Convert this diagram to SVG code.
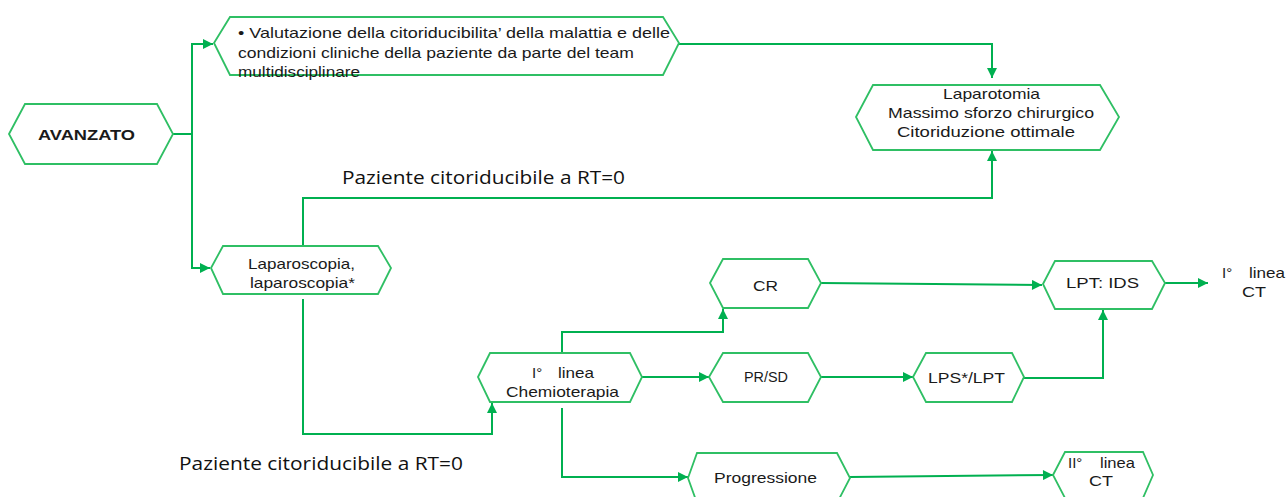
<svg xmlns="http://www.w3.org/2000/svg" width="1286" height="497" viewBox="0 0 1286 497">
<defs>
<style>
.hex{fill:#ffffff;stroke:#2fbf64;stroke-width:1.8;stroke-linejoin:miter}
.con{fill:none;stroke:#00b050;stroke-width:2}
.t{font-family:"Liberation Sans",Arial,sans-serif;font-size:15px;fill:#1a1a1a}
.b{font-weight:bold;font-size:15.5px}
.pz{font-family:"Open Sans","Noto Sans",sans-serif;font-size:19px;fill:#111111}
</style>
<marker id="arr" viewBox="0 0 10 10" refX="10" refY="5" markerWidth="11" markerHeight="10" markerUnits="userSpaceOnUse" orient="auto">
<path d="M0,0 L10,5 L0,10 Z" fill="#00b050"/>
</marker>
</defs>
<rect width="1286" height="497" fill="#ffffff"/>
<g id="connectors">
<path class="con" d="M173,134 H192 V44 H213" marker-end="url(#arr)"/>
<path class="con" d="M192,134 V268 H210" marker-end="url(#arr)"/>
<path class="con" d="M679,44 H992 V78" marker-end="url(#arr)"/>
<path class="con" d="M303,246 V198 H992 V151" marker-end="url(#arr)"/>
<path class="con" d="M303,299 V434 H492 V403" marker-end="url(#arr)"/>
<path class="con" d="M562,353 V332 H723 V309" marker-end="url(#arr)"/>
<path class="con" d="M642,377 H709" marker-end="url(#arr)"/>
<path class="con" d="M562,408 V477 H688" marker-end="url(#arr)"/>
<path class="con" d="M821,283 L1042,285" marker-end="url(#arr)"/>
<path class="con" d="M821,377 H913" marker-end="url(#arr)"/>
<path class="con" d="M1024,378 H1103 V310" marker-end="url(#arr)"/>
<path class="con" d="M1165,283 H1208" marker-end="url(#arr)"/>
<path class="con" d="M850,477 L1053,475" marker-end="url(#arr)"/>
</g>
<g id="avanzato">
<polygon class="hex" points="9,134 25,104 157,104 173,134 157,164 25,164"/>
<text class="t b" x="38" y="140" textLength="97" lengthAdjust="spacingAndGlyphs">AVANZATO</text>
</g>
<g id="valutazione">
<polygon class="hex" points="214,43 230,17 663,17 679,43 663,75 230,75"/>
<text class="t" x="238" y="38" textLength="432" lengthAdjust="spacingAndGlyphs">• Valutazione della citoriducibilita’ della malattia e delle</text>
<text class="t" x="238" y="58" textLength="396" lengthAdjust="spacingAndGlyphs">condizioni cliniche della paziente da parte del team</text>
<text class="t" x="238" y="77" textLength="122" lengthAdjust="spacingAndGlyphs">multidisciplinare</text>
</g>
<g id="laparotomia">
<polygon class="hex" points="856,117 873,85 1100,85 1119,117 1100,150 873,150"/>
<text class="t" x="943" y="99" textLength="97" lengthAdjust="spacingAndGlyphs">Laparotomia</text>
<text class="t" x="888" y="118" textLength="206" lengthAdjust="spacingAndGlyphs">Massimo sforzo chirurgico</text>
<text class="t" x="897" y="137" textLength="178" lengthAdjust="spacingAndGlyphs">Citoriduzione ottimale</text>
</g>
<g id="label-rt0-upper">
<text class="pz" x="342" y="184" textLength="283" lengthAdjust="spacingAndGlyphs">Paziente citoriducibile a RT=0</text>
</g>
<g id="laparoscopia">
<polygon class="hex" points="211,268 223,246 378,246 391,268 378,294 223,294"/>
<text class="t" x="248" y="269" textLength="107" lengthAdjust="spacingAndGlyphs">Laparoscopia,</text>
<text class="t" x="250" y="288" textLength="105" lengthAdjust="spacingAndGlyphs">laparoscopia*</text>
</g>
<g id="label-rt0-lower">
<text class="pz" x="179" y="470" textLength="284" lengthAdjust="spacingAndGlyphs">Paziente citoriducibile a RT=0</text>
</g>
<g id="chemioterapia">
<polygon class="hex" points="478,377 490,353 630,353 642,377 630,402 490,402"/>
<text class="t" x="532" y="378">I°</text>
<text class="t" x="558" y="378" textLength="36" lengthAdjust="spacingAndGlyphs">linea</text>
<text class="t" x="506" y="397" textLength="113" lengthAdjust="spacingAndGlyphs">Chemioterapia</text>
</g>
<g id="cr">
<polygon class="hex" points="710,283 723,259 808,259 821,283 808,308 723,308"/>
<text class="t" x="753" y="291" textLength="25" lengthAdjust="spacingAndGlyphs">CR</text>
</g>
<g id="prsd">
<polygon class="hex" points="709,377 723,353 808,353 821,377 808,402 723,402"/>
<text class="t" x="744" y="382" textLength="44" lengthAdjust="spacingAndGlyphs">PR/SD</text>
</g>
<g id="progressione">
<polygon class="hex" points="688,478 697,453 837,453 850,478 837,503 697,503"/>
<text class="t" x="714" y="483" textLength="103" lengthAdjust="spacingAndGlyphs">Progressione</text>
</g>
<g id="lps-lpt">
<polygon class="hex" points="913,377 926,353 1012,353 1024,377 1012,402 926,402"/>
<text class="t" x="928" y="383" textLength="77" lengthAdjust="spacingAndGlyphs">LPS*/LPT</text>
</g>
<g id="lpt-ids">
<polygon class="hex" points="1043,284 1055,261 1152,261 1165,283 1152,309 1055,309"/>
<text class="t" x="1066" y="288" textLength="73" lengthAdjust="spacingAndGlyphs">LPT: IDS</text>
</g>
<g id="first-line-ct">
<text class="t" x="1222" y="278">I°</text>
<text class="t" x="1249" y="278" textLength="36" lengthAdjust="spacingAndGlyphs">linea</text>
<text class="t" x="1242" y="297" textLength="24" lengthAdjust="spacingAndGlyphs">CT</text>
</g>
<g id="second-line-ct">
<polygon class="hex" points="1053,475 1065,452 1143,452 1153,475 1143,498 1065,498"/>
<text class="t" x="1068" y="468">II°</text>
<text class="t" x="1100" y="468" textLength="35" lengthAdjust="spacingAndGlyphs">linea</text>
<text class="t" x="1089" y="486" textLength="24" lengthAdjust="spacingAndGlyphs">CT</text>
</g>
</svg>
